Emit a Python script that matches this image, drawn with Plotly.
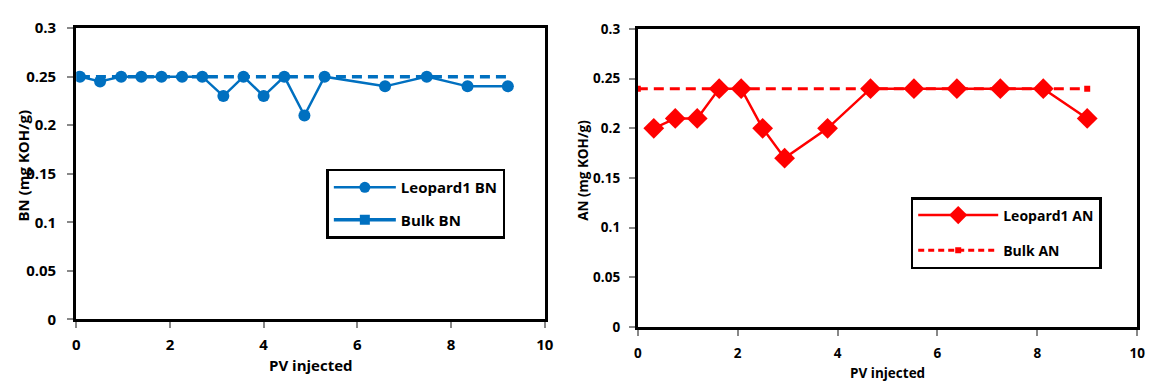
import plotly.graph_objects as go

# Leopard1 base number vs pore volumes injected
bn_pv = [0.08, 0.51, 0.96, 1.39, 1.82, 2.26, 2.69, 3.14, 3.57, 4.00, 4.44, 4.87, 5.30, 6.59, 7.48, 8.35, 9.21]
bn_leopard = [0.25, 0.245, 0.25, 0.25, 0.25, 0.25, 0.25, 0.23, 0.25, 0.23, 0.25, 0.21, 0.25, 0.24, 0.25, 0.24, 0.24]
bn_bulk_pv = [0.08, 9.21]
bn_bulk = [0.25, 0.25]

# Leopard1 acid number vs pore volumes injected
an_pv = [0.32, 0.75, 1.19, 1.63, 2.07, 2.50, 2.94, 3.80, 4.66, 5.53, 6.39, 7.26, 8.12, 9.00]
an_leopard = [0.20, 0.21, 0.21, 0.24, 0.24, 0.20, 0.17, 0.20, 0.24, 0.24, 0.24, 0.24, 0.24, 0.21]
an_bulk_pv = [0.0, 9.0]
an_bulk = [0.24, 0.24]

BLUE = "#0070C0"
RED = "#FF0000"
FONT = "Open Sans"
W, H = 1159, 392

fig = go.Figure()

# ---- left panel: BN ----
fig.add_trace(go.Scatter(x=bn_bulk_pv, y=bn_bulk, mode="lines",
                         line=dict(color=BLUE, width=3.5, dash="10px,6px"),
                         showlegend=False, xaxis="x", yaxis="y"))
fig.add_trace(go.Scatter(x=bn_pv, y=bn_leopard, mode="lines+markers",
                         line=dict(color=BLUE, width=2.5),
                         marker=dict(symbol="circle", size=12, color=BLUE),
                         showlegend=False, xaxis="x", yaxis="y"))
# legend entries
fig.add_trace(go.Scatter(x=[None], y=[None], mode="lines+markers", name="Leopard1 BN",
                         line=dict(color=BLUE, width=2.5),
                         marker=dict(symbol="circle", size=11, color=BLUE),
                         legend="legend", legendgroup="a", xaxis="x", yaxis="y"))
fig.add_trace(go.Scatter(x=[None], y=[None], mode="lines+markers", name="Bulk BN",
                         line=dict(color=BLUE, width=3.5),
                         marker=dict(symbol="square", size=10, color=BLUE),
                         legend="legend", legendgroup="b", xaxis="x", yaxis="y"))

# ---- right panel: AN ----
fig.add_trace(go.Scatter(x=an_bulk_pv, y=an_bulk, mode="lines+markers",
                         line=dict(color=RED, width=3, dash="10px,6px"),
                         marker=dict(symbol="square", size=6, color=RED),
                         showlegend=False, xaxis="x2", yaxis="y2"))
fig.add_trace(go.Scatter(x=an_pv, y=an_leopard, mode="lines+markers",
                         line=dict(color=RED, width=2.5),
                         marker=dict(symbol="diamond", size=16, color=RED),
                         showlegend=False, xaxis="x2", yaxis="y2"))
fig.add_trace(go.Scatter(x=[None], y=[None], mode="lines+markers", name="Leopard1 AN",
                         line=dict(color=RED, width=2.5),
                         marker=dict(symbol="diamond", size=14, color=RED),
                         legend="legend2", legendgroup="c", xaxis="x2", yaxis="y2"))
fig.add_trace(go.Scatter(x=[None], y=[None], mode="lines+markers", name="Bulk AN",
                         line=dict(color=RED, width=3, dash="6px,4px"),
                         marker=dict(symbol="square", size=6, color=RED),
                         legend="legend2", legendgroup="d", xaxis="x2", yaxis="y2"))


def px_x(p):
    return p / W


def px_y(p):
    return 1 - p / H


axis_common = dict(showline=True, linecolor="black", linewidth=3, mirror=True,
                   showgrid=False, zeroline=False, ticks="outside", ticklen=6,
                   tickcolor="#888888", tickwidth=1.5)

tick_left = dict(family=FONT, size=15, color="black", weight="bold")
tick_right = dict(family=FONT, size=13.5, color="black", weight="bold")

legend_common = dict(bgcolor="white", bordercolor="black", borderwidth=2.5,
                     xanchor="left", yanchor="top")


def title_font(size):
    return dict(family=FONT, size=size, color="black", weight="bold")


fig.update_layout(
    width=W, height=H, margin=dict(l=0, r=0, t=0, b=0),
    paper_bgcolor="white", plot_bgcolor="white",
    xaxis=dict(domain=[px_x(73), px_x(547)], range=[0, 10], dtick=2,
               tickfont=tick_left, ticklabelstandoff=4, anchor="y", **axis_common),
    yaxis=dict(domain=[px_y(325), px_y(18)], range=[0, 0.3], dtick=0.05,
               tickfont=tick_left, ticklabelstandoff=8, anchor="x", **axis_common),
    xaxis2=dict(domain=[px_x(641), px_x(1146)], range=[0, 10], dtick=2,
                tickfont=tick_right, ticklabelstandoff=6, anchor="y2", **axis_common),
    yaxis2=dict(domain=[px_y(333), px_y(19)], range=[0, 0.3], dtick=0.05,
                tickfont=tick_right, ticklabelstandoff=6, anchor="x2", **axis_common),
    legend=dict(x=px_x(326), y=px_y(166), font=title_font(15), tracegroupgap=10,
                itemwidth=62, **legend_common),
    legend2=dict(x=px_x(917), y=px_y(196), font=title_font(14), tracegroupgap=14,
                 itemwidth=80, **legend_common),
    annotations=[
        dict(text="PV injected", x=px_x(310), y=px_y(373), xref="paper", yref="paper",
             xanchor="center", yanchor="middle", showarrow=False, font=title_font(15)),
        dict(text="BN (mg KOH/g)", x=px_x(19), y=px_y(163), xref="paper", yref="paper",
             xanchor="center", yanchor="middle", textangle=-90, showarrow=False,
             font=title_font(15)),
        dict(text="PV injected", x=px_x(894), y=px_y(381), xref="paper", yref="paper",
             xanchor="center", yanchor="middle", showarrow=False, font=title_font(13.5)),
        dict(text="AN (mg KOH/g)", x=px_x(586), y=px_y(168), xref="paper", yref="paper",
             xanchor="center", yanchor="middle", textangle=-90, showarrow=False,
             font=title_font(13.5)),
    ],
)

fig.write_html("out.html")
